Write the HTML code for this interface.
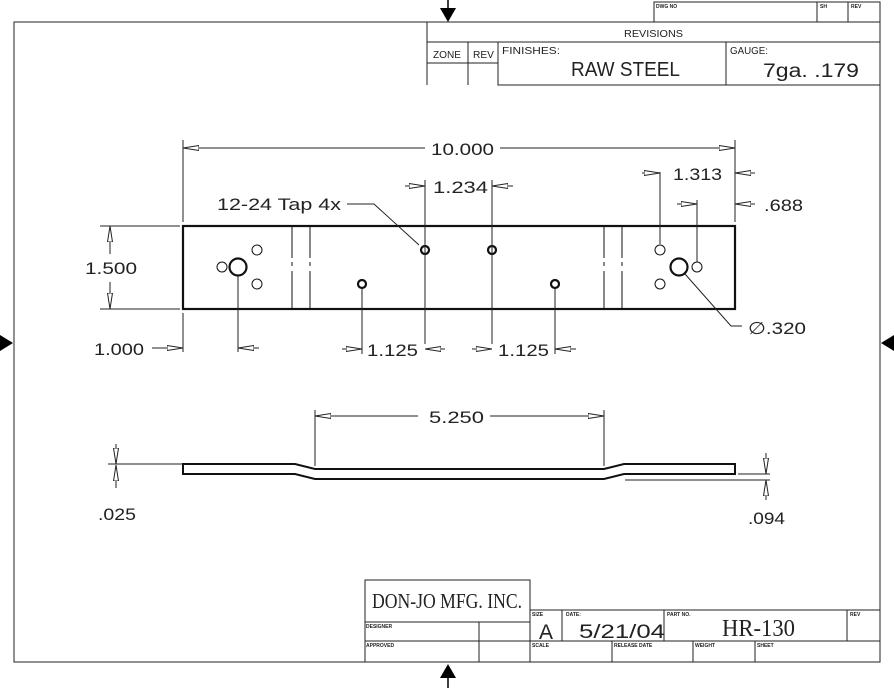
<!DOCTYPE html>
<html><head><meta charset="utf-8"><style>
html,body{margin:0;padding:0;background:#fff;}
svg{display:block;}
text{font-family:"Liberation Sans",sans-serif;fill:#222;}
.d{font-size:17px;}
.s{font-size:5px;font-weight:bold;}
</style></head><body>
<svg width="894" height="688" viewBox="0 0 894 688" xmlns="http://www.w3.org/2000/svg">
<defs>
<marker id="a" viewBox="0 0 16 6" refX="16" refY="3" markerWidth="16" markerHeight="6" markerUnits="userSpaceOnUse" orient="auto"><path d="M0,0.5 L16,3 L0,5.5 Z" fill="#fff" stroke="#222" stroke-width="1"/></marker>
</defs>
<g fill="none" stroke="#222" stroke-width="1">
<rect x="14" y="22" width="866" height="640"/>
<path d="M654,22 V2 H880 V22 M817,2 V22 M848,2 V22"/>
<path d="M427,22 V85 M427,42 H880 M427,63 H498 M468,42 V85 M498,42 V85 H880 M726,42 V85"/>
<path d="M365,662 V580 H530 V662 M365,622 H530 M365,641 H880 M479,622 V662 M530,610 H880 M562,610 V641 M664,610 V641 M847,610 V641 M612,641 V662 M693,641 V662 M755,641 V662"/>
</g>
<path d="M440,8 H456 L448,22 Z" fill="#000"/><line x1="448" y1="0" x2="448" y2="10" stroke="#000" stroke-width="1.5"/>
<path d="M440,678 H456 L448,664 Z" fill="#000"/><line x1="448" y1="676" x2="448" y2="688" stroke="#000" stroke-width="1.5"/>
<path d="M0,335 L13,343 L0,351 Z" fill="#000"/>
<path d="M894,335 L881,343 L894,351 Z" fill="#000"/>

<rect x="183" y="226" width="552" height="83" fill="none" stroke="#111" stroke-width="2.2"/>
<g stroke="#111" stroke-width="1" fill="none">
<path d="M292,226 V258 M292,262 V266 M292,271 V309 M310,226 V258 M310,262 V266 M310,271 V309"/>
<path d="M604,226 V258 M604,262 V266 M604,271 V309 M622,226 V258 M622,262 V266 M622,271 V309"/>
<circle cx="257" cy="250" r="5"/><circle cx="257" cy="284" r="5"/><circle cx="222" cy="267" r="5"/>
<circle cx="660" cy="250" r="5"/><circle cx="660" cy="284" r="5"/><circle cx="697" cy="267" r="5"/>
</g>
<g stroke="#111" stroke-width="2.2" fill="none">
<circle cx="238" cy="267" r="8.5"/><circle cx="679" cy="267" r="8.5"/>
<circle cx="425" cy="250" r="4"/><circle cx="492" cy="250" r="4"/><circle cx="362" cy="284" r="4"/><circle cx="555" cy="284" r="4"/>
</g>

<g stroke="#222" stroke-width="1" fill="none">
<path d="M183,140 V222 M735,140 V222"/>
<line x1="425" y1="148" x2="183" y2="148" marker-end="url(#a)"/>
<line x1="500" y1="148" x2="735" y2="148" marker-end="url(#a)"/>
<path d="M425,180 V344 M492,180 V344"/>
<line x1="405" y1="186" x2="425" y2="186" marker-end="url(#a)"/>
<line x1="513" y1="186" x2="492" y2="186" marker-end="url(#a)"/>
<path d="M660,172 V244 M697,200 V262"/>
<line x1="642" y1="173" x2="660" y2="173" marker-end="url(#a)"/>
<line x1="755" y1="173" x2="735" y2="173" marker-end="url(#a)"/>
<line x1="677" y1="204" x2="697" y2="204" marker-end="url(#a)"/>
<line x1="755" y1="204" x2="735" y2="204" marker-end="url(#a)"/>
<polyline points="347,204 374,204 419,245"/>
<polyline points="685,274 731,326 742,326"/>
<path d="M100,226 H180 M100,309 H180"/>
<line x1="110" y1="254" x2="110" y2="226" marker-end="url(#a)"/>
<line x1="110" y1="282" x2="110" y2="309" marker-end="url(#a)"/>
<path d="M183,313 V352 M238,276 V352 M362,289 V354 M555,289 V354"/>
<line x1="152" y1="348" x2="183" y2="348" marker-end="url(#a)"/>
<line x1="259" y1="348" x2="238" y2="348" marker-end="url(#a)"/>
<line x1="342" y1="349" x2="362" y2="349" marker-end="url(#a)"/>
<line x1="445" y1="349" x2="425" y2="349" marker-end="url(#a)"/>
<line x1="472" y1="349" x2="492" y2="349" marker-end="url(#a)"/>
<line x1="576" y1="349" x2="555" y2="349" marker-end="url(#a)"/>
<path d="M315,410 V466 M604,410 V466"/>
<line x1="418" y1="416" x2="315" y2="416" marker-end="url(#a)"/>
<line x1="490" y1="416" x2="604" y2="416" marker-end="url(#a)"/>
<path d="M108,464 H183"/>
<line x1="116" y1="444" x2="116" y2="464" marker-end="url(#a)"/>
<line x1="116" y1="488" x2="116" y2="465" marker-end="url(#a)"/>
<path d="M738,474 H770 M625,480 H770"/>
<line x1="766" y1="453" x2="766" y2="474" marker-end="url(#a)"/>
<line x1="766" y1="500" x2="766" y2="480" marker-end="url(#a)"/>
</g>
<path d="M183,464 H295 L315,469 H604 L624,464 H735 V474 H624 L604,479 H315 L295,474 H183 Z" fill="none" stroke="#111" stroke-width="2"/>

<g class="d">
<text x="431" y="155" textLength="63" lengthAdjust="spacingAndGlyphs">10.000</text>
<text x="433" y="193" textLength="55" lengthAdjust="spacingAndGlyphs">1.234</text>
<text x="673" y="180" textLength="49" lengthAdjust="spacingAndGlyphs">1.313</text>
<text x="764" y="211" textLength="39" lengthAdjust="spacingAndGlyphs">.688</text>
<text x="217" y="210" textLength="124" lengthAdjust="spacingAndGlyphs">12-24 Tap 4x</text>
<text x="85" y="274" textLength="52" lengthAdjust="spacingAndGlyphs">1.500</text>
<text x="94" y="355" textLength="50" lengthAdjust="spacingAndGlyphs">1.000</text>
<text x="367" y="356" textLength="51" lengthAdjust="spacingAndGlyphs">1.125</text>
<text x="498" y="356" textLength="51" lengthAdjust="spacingAndGlyphs">1.125</text>
<text x="748" y="334" textLength="58" lengthAdjust="spacingAndGlyphs">∅.320</text>
<text x="429" y="423" textLength="55" lengthAdjust="spacingAndGlyphs">5.250</text>
<text x="98" y="520" textLength="38" lengthAdjust="spacingAndGlyphs">.025</text>
<text x="748" y="524" textLength="37" lengthAdjust="spacingAndGlyphs">.094</text>
</g>
<text x="624" y="37" font-size="10" textLength="59" lengthAdjust="spacingAndGlyphs">REVISIONS</text>
<text x="433" y="58" font-size="10" textLength="28" lengthAdjust="spacingAndGlyphs">ZONE</text>
<text x="473" y="58" font-size="10" textLength="21" lengthAdjust="spacingAndGlyphs">REV</text>
<text x="502" y="54" font-size="10" textLength="58" lengthAdjust="spacingAndGlyphs">FINISHES:</text>
<text x="571" y="76" font-size="20" textLength="109" lengthAdjust="spacingAndGlyphs">RAW STEEL</text>
<text x="730" y="54" font-size="10" textLength="38" lengthAdjust="spacingAndGlyphs">GAUGE:</text>
<text x="763" y="77" font-size="19" textLength="96" lengthAdjust="spacingAndGlyphs">7ga. .179</text>
<text x="656" y="8" class="s">DWG NO</text><text x="820" y="8" class="s">SH</text><text x="851" y="8" class="s">REV</text>
<text x="372" y="608" font-size="21" textLength="150" lengthAdjust="spacingAndGlyphs" style="font-family:'Liberation Serif',serif">DON-JO MFG. INC.</text>
<text x="366" y="628" class="s">DESIGNER</text><text x="366" y="647" class="s">APPROVED</text>
<text x="532" y="616" class="s">SIZE</text><text x="566" y="616" class="s">DATE:</text><text x="667" y="616" class="s">PART NO.</text><text x="850" y="616" class="s">REV</text>
<text x="532" y="647" class="s">SCALE</text><text x="614" y="647" class="s">RELEASE DATE</text><text x="695" y="647" class="s">WEIGHT</text><text x="757" y="647" class="s">SHEET</text>
<text x="539" y="639" font-size="21" textLength="14" lengthAdjust="spacingAndGlyphs">A</text>
<text x="579" y="638" font-size="19" textLength="86" lengthAdjust="spacingAndGlyphs">5/21/04</text>
<text x="722" y="636" font-size="24" textLength="73" lengthAdjust="spacingAndGlyphs" style="font-family:'Liberation Serif',serif">HR-130</text>
</svg>
</body></html>
